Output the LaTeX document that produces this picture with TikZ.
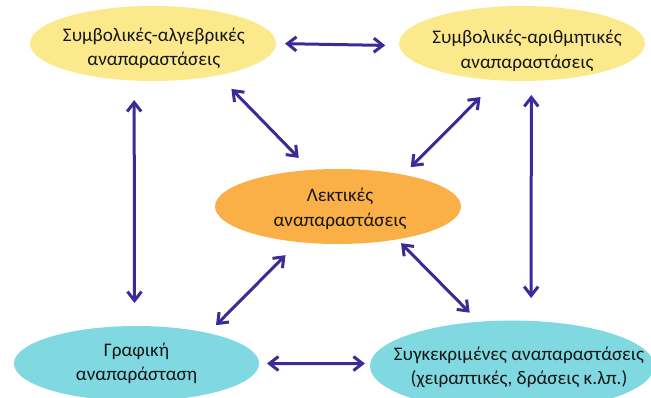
\documentclass[tikz,border=0pt]{standalone}
\usepackage{fontspec}
\setmainfont{Carlito}
\usetikzlibrary{shapes.geometric,arrows.meta}
\definecolor{ylw}{RGB}{252,233,140}
\definecolor{org}{RGB}{251,175,71}
\definecolor{cyn}{RGB}{128,216,224}
\definecolor{arrc}{RGB}{59,43,150}
\definecolor{txt}{RGB}{22,22,22}
\begin{document}
\begin{tikzpicture}[x=1pt,y=-1pt,
  ell/.style={ellipse, inner sep=0pt, outer sep=0pt, draw=none},
  lbl/.style={align=center, font=\fontsize{19.2}{24.5}\selectfont, text=txt, inner sep=0pt},
  arr/.style={arrc, line width=3pt, {Straight Barb[length=9pt,width=14pt]}-{Straight Barb[length=9pt,width=14pt]}}]
\useasboundingbox (0,0) rectangle (651,397);
\clip (0,0) rectangle (651,397);
\node[ell, fill=ylw, minimum width=246pt, minimum height=75pt] (tl) at (153,43.5) {};
\node[ell, fill=ylw, minimum width=246pt, minimum height=75pt] (tr) at (522,43.5) {};
\node[ell, fill=org, minimum width=246pt, minimum height=75pt] (c) at (338,206.5) {};
\node[ell, fill=cyn, minimum width=245pt, minimum height=75pt] (bl) at (136.5,363.5) {};
\node[ell, fill=cyn, minimum width=284pt, minimum height=91pt] (br) at (512,366) {};
\node[lbl] (tlt) at (153.8,48.2) {Συμβολικές-αλγεβρικές\\αναπαραστάσεις};
\node[lbl] (trt) at (527,50.8) {Συμβολικές-αριθμητικές\\αναπαραστάσεις};
\node[lbl] (ct) at (340,208.7) {Λεκτικές\\αναπαραστάσεις};
\node[lbl] (blt) at (136.5,363.5) {Γραφική\\αναπαράσταση};
\node[lbl] (brt) at (519,367.5) {Συγκεκριμένες αναπαραστάσεις\\(χειραπτικές, δράσεις κ.λπ.)};
\draw[arr, shorten <=9pt, shorten >=14pt] (tl.-0.9) -- (tr.-179.1);
\draw[arr, shorten <=19pt, shorten >=16.8pt] (tl.-26.7) -- (c.127.7);
\draw[arr, shorten <=19.5pt, shorten >=23pt] (tl.-117.1) -- (bl.93.8);
\draw[arr, shorten <=23.7pt, shorten >=10.6pt] (tr.-124.5) -- (c.26.4);
\draw[arr, shorten <=14.1pt, shorten >=22.9pt] (tr.-76.5) -- (br.67.2);
\draw[arr, shorten <=18.5pt, shorten >=11.1pt] (c.-138.4) -- (bl.23.5);
\draw[arr, shorten <=5.4pt, shorten >=12.8pt] (c.-29.6) -- (br.127.2);
\draw[arr, shorten <=8pt, shorten >=5.3pt] (bl.east) -- (br.179);
\end{tikzpicture}
\end{document}
